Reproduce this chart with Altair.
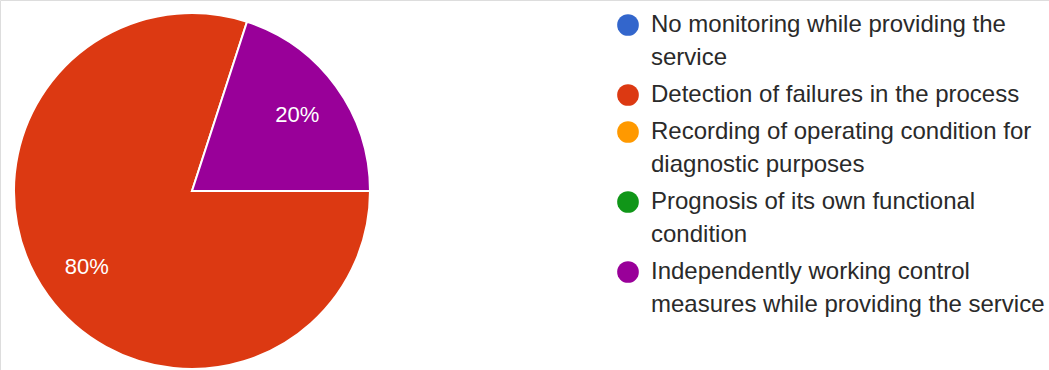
import json
import math

import altair as alt
import pandas as pd

# ---- data ----
categories = [
    "No monitoring while providing the service",
    "Detection of failures in the process",
    "Recording of operating condition for diagnostic purposes",
    "Prognosis of its own functional condition",
    "Independently working control measures while providing the service",
]
label_lines = [
    ["No monitoring while providing the", "service"],
    ["Detection of failures in the process"],
    ["Recording of operating condition for", "diagnostic purposes"],
    ["Prognosis of its own functional", "condition"],
    ["Independently working control", "measures while providing the service"],
]
percentages = [0, 80, 0, 0, 20]
colors = ["#3366CC", "#DC3912", "#FF9900", "#109618", "#990099"]

df = pd.DataFrame({
    "category": categories,
    "value": percentages,
    "order": list(range(len(categories))),
})

# legend label wrapping expression
expr = ""
for cat, lines in zip(categories, label_lines):
    expr += f"datum.label === {json.dumps(cat)} ? {json.dumps(lines)} : "
expr += "datum.label"

FONT = "Liberation Sans"
CX, CY, R = 192, 191, 178

theta_scale = alt.Scale(range=[math.pi / 2, math.pi / 2 + 2 * math.pi])

base = alt.Chart(df).transform_filter("datum.value > 0").transform_calculate(
    pct="datum.value + '%'"
)

arcs = base.mark_arc(radius=R, stroke="white", strokeWidth=2).encode(
    theta=alt.Theta("value:Q", stack=True, scale=theta_scale),
    color=alt.Color(
        "category:N",
        scale=alt.Scale(domain=categories, range=colors),
        legend=alt.Legend(
            title=None,
            orient="none",
            legendX=616,
            legendY=13,
            padding=0,
            symbolType="circle",
            symbolSize=470,
            symbolStrokeWidth=0,
            symbolOpacity=1,
            labelFont=FONT,
            labelFontSize=24,
            labelColor="#2a2a2a",
            labelOffset=11,
            labelLimit=700,
            rowPadding=13,
            labelExpr=expr,
        ),
    ),
    order=alt.Order("order:Q"),
    x=alt.value(CX),
    y=alt.value(CY),
)

labels = base.mark_text(
    radius=130, font=FONT, fontSize=22, fill="white"
).encode(
    theta=alt.Theta("value:Q", stack=True, scale=theta_scale),
    detail="category:N",
    order=alt.Order("order:Q"),
    text="pct:N",
    x=alt.value(CX),
    y=alt.value(CY),
)

chart = (
    alt.layer(arcs, labels)
    .properties(width=1049, height=370, autosize="none", padding=0, background="white")
    .configure_view(strokeWidth=0)
    .configure(style={"guide-label": {"lineHeight": 33}})
)

chart.save("out.html", embed_options={"renderer": "svg", "actions": False})
